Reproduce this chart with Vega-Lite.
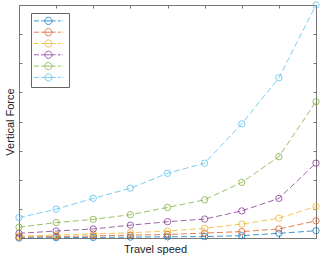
{
  "$schema": "https://vega.github.io/schema/vega-lite/v6.json",
  "autosize": {"type": "none"},
  "width": 297,
  "height": 233,
  "padding": {"left": 19, "top": 5, "right": 9, "bottom": 19},
  "background": "white",
  "config": {
    "view": {"stroke": "#777", "strokeWidth": 1},
    "axis": {"labels": false, "grid": false, "tickSize": -3, "tickColor": "#777", "domainColor": "#777", "titleFont": "Liberation Sans", "titleFontSize": 11, "titleFontWeight": "normal", "titleColor": "#222"},
    "legend": {"symbolType": "M-4,0H-2.6M-2,0H2M2.6,0H3.4M3.8,0H4M-1,0A1,1 0 1,0 1,0A1,1 0 1,0 -1,0"}
  },
  "data": {"values": [
    {"x":1,"y":0.0,"s":"s1"},{"x":2,"y":0.01,"s":"s1"},{"x":3,"y":0.02,"s":"s1"},{"x":4,"y":0.03,"s":"s1"},{"x":5,"y":0.04,"s":"s1"},{"x":6,"y":0.05,"s":"s1"},{"x":7,"y":0.08,"s":"s1"},{"x":8,"y":0.16,"s":"s1"},{"x":9,"y":0.25,"s":"s1"},
    {"x":1,"y":0.03,"s":"s2"},{"x":2,"y":0.05,"s":"s2"},{"x":3,"y":0.07,"s":"s2"},{"x":4,"y":0.1,"s":"s2"},{"x":5,"y":0.12,"s":"s2"},{"x":6,"y":0.17,"s":"s2"},{"x":7,"y":0.22,"s":"s2"},{"x":8,"y":0.31,"s":"s2"},{"x":9,"y":0.59,"s":"s2"},
    {"x":1,"y":0.07,"s":"s3"},{"x":2,"y":0.1,"s":"s3"},{"x":3,"y":0.14,"s":"s3"},{"x":4,"y":0.18,"s":"s3"},{"x":5,"y":0.24,"s":"s3"},{"x":6,"y":0.33,"s":"s3"},{"x":7,"y":0.48,"s":"s3"},{"x":8,"y":0.68,"s":"s3"},{"x":9,"y":1.08,"s":"s3"},
    {"x":1,"y":0.16,"s":"s4"},{"x":2,"y":0.24,"s":"s4"},{"x":3,"y":0.31,"s":"s4"},{"x":4,"y":0.44,"s":"s4"},{"x":5,"y":0.56,"s":"s4"},{"x":6,"y":0.65,"s":"s4"},{"x":7,"y":0.93,"s":"s4"},{"x":8,"y":1.36,"s":"s4"},{"x":9,"y":2.57,"s":"s4"},
    {"x":1,"y":0.37,"s":"s5"},{"x":2,"y":0.53,"s":"s5"},{"x":3,"y":0.64,"s":"s5"},{"x":4,"y":0.8,"s":"s5"},{"x":5,"y":1.05,"s":"s5"},{"x":6,"y":1.31,"s":"s5"},{"x":7,"y":1.91,"s":"s5"},{"x":8,"y":2.79,"s":"s5"},{"x":9,"y":4.68,"s":"s5"},
    {"x":1,"y":0.7,"s":"s6"},{"x":2,"y":0.99,"s":"s6"},{"x":3,"y":1.36,"s":"s6"},{"x":4,"y":1.71,"s":"s6"},{"x":5,"y":2.22,"s":"s6"},{"x":6,"y":2.57,"s":"s6"},{"x":7,"y":3.92,"s":"s6"},{"x":8,"y":5.5,"s":"s6"},{"x":9,"y":8.0,"s":"s6"}
  ]},
  "layer": [
    {
      "mark": {"type": "line", "strokeDash": [6, 3], "strokeWidth": 1, "opacity": 0.75},
      "encoding": {
        "x": {"field": "x", "type": "quantitative", "scale": {"domain": [1, 9], "nice": false, "zero": false}, "axis": {"title": "Travel speed", "values": [1,2,3,4,5,6,7,8,9], "titlePadding": 5, "titleX": 136}},
        "y": {"field": "y", "type": "quantitative", "scale": {"domain": [0, 8], "nice": false}, "axis": {"title": "Vertical Force", "values": [0,1,2,3,4,5,6,7,8], "titlePadding": 3}},
        "color": {"field": "s", "type": "nominal", "scale": {"domain": ["s1","s2","s3","s4","s5","s6"], "range": ["#0072BD","#D95319","#EDB120","#7E2F8E","#77AC30","#4DBEEE"]},
          "legend": {"title": null, "orient": "none", "legendX": 12, "legendY": 8, "labelExpr": "''", "labelOffset": -5, "labelFontSize": 1, "symbolSize": 52, "symbolStrokeWidth": 1, "symbolOpacity": 0.75, "symbolFillColor": "transparent", "strokeColor": "#666", "fillColor": "white", "padding": 3.4, "rowPadding": -1.7, "symbolOffset": 9.5}}
      }
    },
    {
      "mark": {"type": "point", "shape": "circle", "filled": false, "size": 40, "strokeWidth": 1, "opacity": 0.75},
      "encoding": {
        "x": {"field": "x", "type": "quantitative", "scale": {"domain": [1, 9], "nice": false, "zero": false}, "axis": {"orient": "top", "title": null, "values": [1,2,3,4,5,6,7,8,9]}},
        "y": {"field": "y", "type": "quantitative", "scale": {"domain": [0, 8], "nice": false}, "axis": {"orient": "right", "title": null, "values": [0,1,2,3,4,5,6,7,8]}},
        "color": {"field": "s", "type": "nominal", "legend": null}
      }
    }
  ],
  "resolve": {"axis": {"x": "independent", "y": "independent"}}
}
